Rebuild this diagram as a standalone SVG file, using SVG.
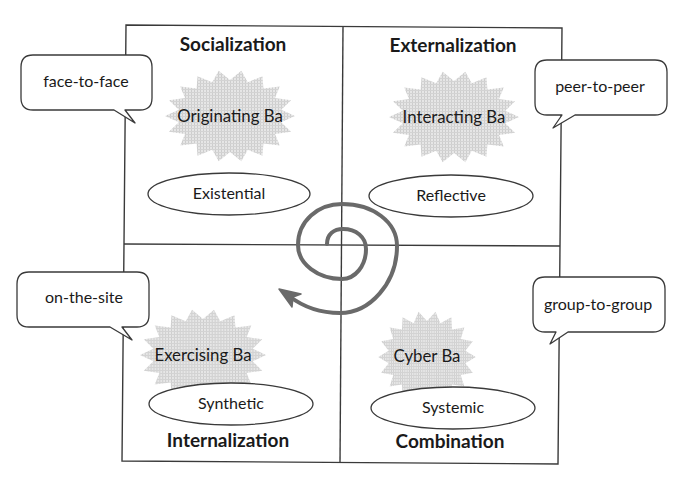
<svg xmlns="http://www.w3.org/2000/svg" width="676" height="496" viewBox="0 0 676 496">
<defs>
<style>
.frame{fill:none;stroke:#3a3a3a;stroke-width:1.4}
.callout{fill:#fff;stroke:#3a3a3a;stroke-width:1.3;stroke-linejoin:round}
.ell{fill:#fff;stroke:#3a3a3a;stroke-width:1.3}
.t{font-family:Lato,"Liberation Sans",sans-serif;font-size:16px;fill:#1a1a1a;text-anchor:middle}
.b{font-size:16.8px}
.h{font-family:Lato,"Liberation Sans",sans-serif;font-size:19px;font-weight:bold;fill:#1a1a1a;text-anchor:middle}
.spiral{fill:none;stroke:#6a6a6a;stroke-width:4;stroke-linecap:round}
</style>
<pattern id="dots" width="3" height="3" patternUnits="userSpaceOnUse">
<rect width="3" height="3" fill="#e6e6e6"/>
<rect width="1" height="3" fill="#cdcdcd"/>
<rect width="3" height="1" fill="#d3d3d3"/>
</pattern>
<polygon id="star" fill="url(#dots)" points="65,0 51.2,6.3 61.1,15.7 45,18 49.8,29.6 33.4,27.6 32.5,39.8 17.8,33.8 11.3,45.3 0,36 -11.3,45.3 -17.8,33.8 -32.5,39.8 -33.4,27.6 -49.8,29.6 -45,18 -61.1,15.7 -51.2,6.3 -65,0 -51.2,-6.3 -61.1,-15.7 -45,-18 -49.8,-29.6 -33.4,-27.6 -32.5,-39.8 -17.8,-33.8 -11.3,-45.3 0,-36 11.3,-45.3 17.8,-33.8 32.5,-39.8 33.4,-27.6 49.8,-29.6 45,-18 61.1,-15.7 51.2,-6.3"/>
</defs>
<rect width="676" height="496" fill="#fff"/>

<g id="grid">
<path class="frame" d="M126,25 L562,28 L558,464 L122,461 Z"/>
<line class="frame" x1="343" y1="26" x2="340" y2="463"/>
<line class="frame" x1="124" y1="244" x2="560" y2="246"/>
</g>

<g id="connectors">
<path class="spiral" d="M327,244 C327,234 334,229 343,229 C356,229 366,237 366,249 C366,266 355,279 342,279 C318,279 298,264 298,245 C298,221 318,204 342,204 C373,204 397,222 397,246 C397,283 370,313 340,313 C318,313 302,306 289,296"/>
<path d="M279,289 L301,294 L293,297 L292,307 Z" fill="#6a6a6a" stroke="#6a6a6a" stroke-width="1.5" stroke-linejoin="round"/>
</g>

<g id="socialization">
<text class="h" x="233" y="51">Socialization</text>
</g>
<g id="externalization">
<text class="h" x="453" y="52">Externalization</text>
</g>
<g id="internalization">
<text class="h" x="228" y="447">Internalization</text>
</g>
<g id="combination">
<text class="h" x="450" y="448">Combination</text>
</g>

<g id="originating-ba">
<use href="#star" transform="translate(230,116)"/>
<text class="t b" x="230" y="122">Originating Ba</text>
</g>
<g id="interacting-ba">
<use href="#star" transform="translate(454,117)"/>
<text class="t b" x="454" y="123">Interacting Ba</text>
</g>
<g id="exercising-ba">
<use href="#star" transform="translate(203,355) scale(0.97,1)"/>
<text class="t b" x="203" y="361">Exercising Ba</text>
</g>
<g id="cyber-ba">
<use href="#star" transform="translate(427,357) scale(0.75,1)"/>
<text class="t b" x="427" y="362">Cyber Ba</text>
</g>

<g id="existential">
<ellipse class="ell" cx="229" cy="194" rx="81" ry="21"/>
<text class="t" x="229" y="199">Existential</text>
</g>
<g id="reflective">
<ellipse class="ell" cx="451" cy="196" rx="82" ry="21"/>
<text class="t" x="451" y="201">Reflective</text>
</g>
<g id="synthetic">
<ellipse class="ell" cx="231" cy="404" rx="82" ry="21"/>
<text class="t" x="231" y="409">Synthetic</text>
</g>
<g id="systemic">
<ellipse class="ell" cx="453" cy="408" rx="82" ry="21"/>
<text class="t" x="453" y="413">Systemic</text>
</g>

<g id="face-to-face">
<path class="callout" d="M33,55 L140,55 Q152,55 152,67 L152,98 Q152,110 140,110 L125,110 L135,123 L114,110 L33,110 Q21,110 21,98 L21,67 Q21,55 33,55 Z"/>
<text class="t" x="86" y="87">face-to-face</text>
</g>
<g id="peer-to-peer">
<path class="callout" d="M547,60 L655,60 Q667,60 667,72 L667,103 Q667,115 655,115 L575,115 L553,128 L562,115 L547,115 Q535,115 535,103 L535,72 Q535,60 547,60 Z"/>
<text class="t" x="600" y="92">peer-to-peer</text>
</g>
<g id="on-the-site">
<path class="callout" d="M29,272 L137,272 Q149,272 149,284 L149,315 Q149,327 137,327 L122,327 L132,340 L110,327 L29,327 Q17,327 17,315 L17,284 Q17,272 29,272 Z"/>
<text class="t" x="84" y="303">on-the-site</text>
</g>
<g id="group-to-group">
<path class="callout" d="M545,277 L653,277 Q665,277 665,289 L665,320 Q665,332 653,332 L568,332 L550,344 L556,332 L545,332 Q533,332 533,320 L533,289 Q533,277 545,277 Z"/>
<text class="t" x="598" y="310">group-to-group</text>
</g>
</svg>
